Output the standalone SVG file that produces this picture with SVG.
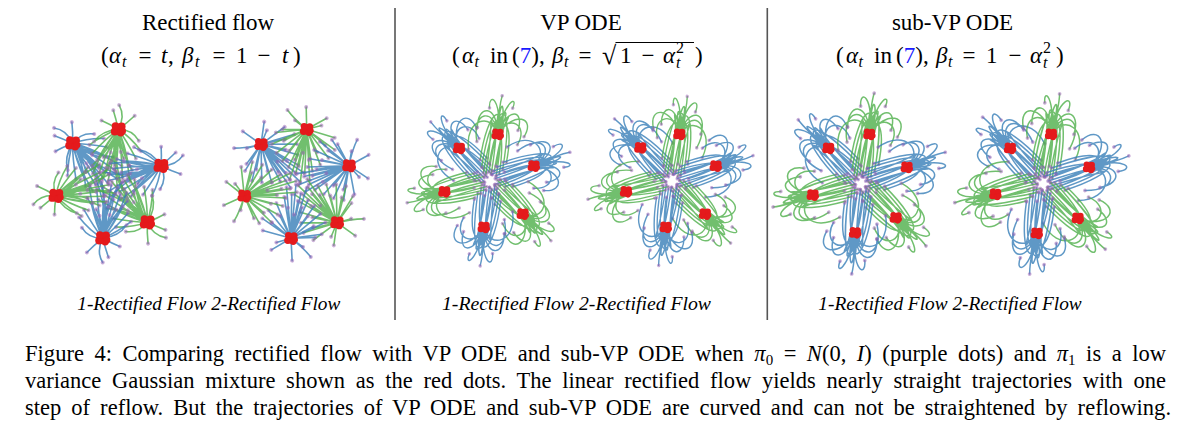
<svg xmlns="http://www.w3.org/2000/svg" width="1186" height="434" viewBox="0 0 1186 434">
<style>
.t{font-family:"Liberation Serif","Times New Roman",serif;fill:#000}
.ttl{font-size:23px}
.sb{font-size:16px}
.i{font-style:italic}
.cap{font-size:22.5px}
.sub{font-size:18.5px;font-style:italic}
.tr{fill:none;stroke-width:1.6;stroke-opacity:0.8;stroke-linecap:round}
.pd{fill:none;stroke:#9a5fb4;stroke-opacity:0.5;stroke-width:4;stroke-linecap:round}
.rd{fill:#e41a1c;stroke:none}
.div{stroke:#555;stroke-width:1.6}
</style>
<defs>
<g id="rf1">
<path class="tr" d="M0 0Q-3 14 -6 40M0 0Q3 16 4 42M0 0Q-6 18 -12 46M0 0Q6 18 12 48M0 0Q0 22 -2 54M0 0Q-2 24 8 56M0 0Q4 20 -8 52M0 0Q-8 12 -16 34M0 0Q8 12 16 34M0 0Q-10 10 -22 28M0 0Q10 10 22 26M0 0Q-2 10 -4 24M0 0Q2 10 6 22M0 0Q-12 20 -18 48M0 0Q12 22 20 50M0 0Q-4 16 2 36M0 0Q4 16 -2 32M0 0Q-14 8 -26 20M0 0Q14 6 26 18M0 0Q-6 22 -20 40M0 0Q6 22 20 38M0 0Q2 28 -12 58M0 0Q-2 28 14 58M0 0Q0 12 -10 30M0 0Q0 12 10 28M0 0Q-4 -10 -8 -18M0 0Q8 -8 14 -16M0 0Q-10 -4 -18 -6M0 0Q5 -14 -3 -24M0 0Q-16 4 -22 16M0 0Q14 -2 22 8"/>
<path class="pd" d="M-6 40h0M4 42h0M-12 46h0M12 48h0M-2 54h0M8 56h0M-8 52h0M-16 34h0M16 34h0M-22 28h0M22 26h0M-4 24h0M6 22h0M-18 48h0M20 50h0M2 36h0M-2 32h0M-26 20h0M26 18h0M-20 40h0M20 38h0M-12 58h0M14 58h0M-10 30h0M10 28h0M-8 -18h0M14 -16h0M-18 -6h0M-3 -24h0M-22 16h0M22 8h0"/>
</g>
<g id="rf2">
<path class="tr" d="M0 0L-4 46M0 0L5 44M0 0L12 40M0 0L-12 40M0 0L-19 35M0 0L19 33M0 0L-26 28M0 0L26 25M0 0L-32 20M0 0L31 16M0 0L-7 32M0 0L7 30M0 0L0 24M0 0L-14 24M0 0L14 21M0 0L-21 15M0 0L21 13M0 0L-30 8M0 0L29 4M0 0L-24 4M0 0L2 54M0 0L-9 52M0 0L11 50M0 0L-2 38M0 0L14 -6M0 0L-13 -7M0 0L-4 -22M0 0L18 -14M0 0Q-14 -8 -22 -16"/>
<path class="pd" d="M-4 46h0M5 44h0M12 40h0M-12 40h0M-19 35h0M19 33h0M-26 28h0M26 25h0M-32 20h0M31 16h0M-7 32h0M7 30h0M0 24h0M-14 24h0M14 21h0M-21 15h0M21 13h0M-30 8h0M29 4h0M-24 4h0M2 54h0M-9 52h0M11 50h0M-2 38h0M14 -6h0M-13 -7h0M-4 -22h0M18 -14h0M-22 -16h0"/>
</g>
<g id="vp">
<path class="tr" d="M-12 40C-12 -20 -2 -22 0 0M-9 46C-9 -36 10 -38 0 0M-6 48C-6 -26 -18 -22 0 0M-3 44C-3 -44 14 -36 0 0M0 46C0 -18 -8 -20 0 0M3 42C3 -40 18 -30 0 0M6 48C6 -30 -10 -40 0 0M9 44C9 -22 -16 -24 0 0M12 38C12 -32 -2 -38 0 0M-15 32C-16 -30 4 -36 0 0M15 30C16 -16 2 -22 0 0M-4 34C-4 -10 4 -12 0 0M4 36C6 -50 -6 -46 0 0M-24 -4C-28 -30 -6 -34 0 0M22 -8C26 -32 6 -34 0 0M-22 12C-34 -22 -8 -30 0 0M24 8C34 -16 8 -26 0 0M-14 -28C-18 -46 -2 -42 0 0M12 -32C16 -48 2 -40 0 0M-2 -44C-4 -30 -2 -16 0 0M-30 22C-40 -12 -10 -24 0 0M30 -2C40 -26 14 -30 0 0"/>
<path class="pd" d="M-12 40h0M-9 46h0M-6 48h0M-3 44h0M0 46h0M3 42h0M6 48h0M9 44h0M12 38h0M-15 32h0M15 30h0M-4 34h0M4 36h0M-24 -4h0M22 -8h0M-22 12h0M24 8h0M-14 -28h0M12 -32h0M-2 -44h0M-30 22h0M30 -2h0"/>
</g>
<g id="rc" class="rd"><circle r="5.2"/><circle cx="3" cy="-2.5" r="3.6"/><circle cx="-3.2" cy="2" r="3.6"/><circle cx="2.2" cy="3.2" r="3.4"/><circle cx="-2.6" cy="-3" r="3.4"/><circle cx="4" cy="1.5" r="3"/></g>
</defs>
<rect width="1186" height="434" fill="#fff"/>

<g id="dividers">
<line class="div" x1="395" y1="8" x2="395" y2="320"/>
<line class="div" x1="767.3" y1="8" x2="767.3" y2="320"/>
</g>

<g id="panel-rectified-titles" class="t">
<text class="ttl" x="208" y="30" text-anchor="middle">Rectified flow</text>
<g class="ttl">
<text x="101" y="63">(</text><text class="i" x="109" y="63">α</text><text class="i sb" x="122" y="67">t</text>
<text x="145" y="63" text-anchor="middle">=</text><text class="i" x="161" y="63">t</text><text x="168" y="63">,</text>
<text class="i" x="182" y="63">β</text><text class="i sb" x="195" y="67">t</text>
<text x="219" y="63" text-anchor="middle">=</text><text x="236" y="63">1</text><text x="264" y="63" text-anchor="middle">−</text>
<text class="i" x="282" y="63">t</text><text x="293" y="63">)</text>
</g>
</g>

<g id="panel-vp-titles" class="t">
<text class="ttl" x="581" y="30" text-anchor="middle">VP ODE</text>
<g class="ttl">
<text x="452" y="63">(</text><text class="i" x="462" y="63">α</text><text class="i sb" x="474.5" y="67">t</text>
<text x="490" y="63">in</text><text x="512" y="63">(</text><text x="519.7" y="63" fill="#1a1aff">7</text><text x="531.2" y="63">)</text><text x="538.9" y="63">,</text>
<text class="i" x="552" y="63">β</text><text class="i sb" x="564" y="67">t</text>
<text x="585" y="63" text-anchor="middle">=</text>
<text x="602" y="64" font-size="26">√</text>
<line x1="615.5" y1="42.5" x2="694" y2="42.5" stroke="#000" stroke-width="1.1"/>
<text x="620" y="63">1</text><text x="648" y="63" text-anchor="middle">−</text>
<text class="i" x="663" y="63">α</text><text class="sb" x="676" y="53">2</text><text class="i sb" x="676" y="68">t</text>
<text x="695" y="63">)</text>
</g>
</g>

<g id="panel-subvp-titles" class="t">
<text class="ttl" x="952.5" y="30" text-anchor="middle">sub-VP ODE</text>
<g class="ttl">
<text x="836" y="63">(</text><text class="i" x="846" y="63">α</text><text class="i sb" x="858.5" y="67">t</text>
<text x="874" y="63">in</text><text x="896" y="63">(</text><text x="903.7" y="63" fill="#1a1aff">7</text><text x="915.2" y="63">)</text><text x="922.9" y="63">,</text>
<text class="i" x="936" y="63">β</text><text class="i sb" x="948" y="67">t</text>
<text x="969" y="63" text-anchor="middle">=</text>
<text x="986" y="63">1</text><text x="1015" y="63" text-anchor="middle">−</text>
<text class="i" x="1030" y="63">α</text><text class="sb" x="1043" y="53">2</text><text class="i sb" x="1043" y="68">t</text>
<text x="1056" y="63">)</text>
</g>
</g>

<g id="plot-1-rectified">
<use href="#rf1" stroke="#377eb8" transform="translate(72.7 143.3) rotate(-43.4)"/>
<use href="#rf1" stroke="#4daf4a" transform="translate(118.3 129.3) rotate(9.2)"/>
<use href="#rf1" stroke="#377eb8" transform="translate(161 165.7) rotate(72)"/>
<use href="#rf1" stroke="#4daf4a" transform="translate(147.3 222.3) rotate(136.7)"/>
<use href="#rf1" stroke="#377eb8" transform="translate(102.7 238.3) rotate(187.1)"/>
<use href="#rf1" stroke="#4daf4a" transform="translate(56 195.7) rotate(256.1)"/>
<use href="#rc" transform="translate(72.7 143.3) scale(1.1)"/>
<use href="#rc" transform="translate(118.3 129.3) scale(1.1)"/>
<use href="#rc" transform="translate(161 165.7) scale(1.1)"/>
<use href="#rc" transform="translate(147.3 222.3) scale(1.1)"/>
<use href="#rc" transform="translate(102.7 238.3) scale(1.1)"/>
<use href="#rc" transform="translate(56 195.7) scale(1.1)"/>
</g>

<g id="plot-2-rectified">
<use href="#rf2" stroke="#377eb8" transform="translate(261 144.3) rotate(-44.1)"/>
<use href="#rf2" stroke="#4daf4a" transform="translate(306.7 129.3) rotate(9)"/>
<use href="#rf2" stroke="#377eb8" transform="translate(349 165.7) rotate(71.5)"/>
<use href="#rf2" stroke="#4daf4a" transform="translate(337 222.7) rotate(135.9)"/>
<use href="#rf2" stroke="#377eb8" transform="translate(291 238.3) rotate(187.4)"/>
<use href="#rf2" stroke="#4daf4a" transform="translate(244.3 196) rotate(256.1)"/>
<use href="#rc" transform="translate(261 144.3)"/>
<use href="#rc" transform="translate(306.7 129.3)"/>
<use href="#rc" transform="translate(349 165.7)"/>
<use href="#rc" transform="translate(337 222.7)"/>
<use href="#rc" transform="translate(291 238.3)"/>
<use href="#rc" transform="translate(244.3 196)"/>
</g>

<g id="plot-1-vp">
<use href="#vp" stroke="#377eb8" transform="translate(459 148.3) rotate(-44.3) scale(0.88)"/>
<use href="#vp" stroke="#4daf4a" transform="translate(497.7 134.3) rotate(9.3) scale(0.88)"/>
<use href="#vp" stroke="#377eb8" transform="translate(533.7 166) rotate(71.8) scale(0.88)"/>
<use href="#vp" stroke="#4daf4a" transform="translate(522.7 214) rotate(136) scale(0.88)"/>
<use href="#vp" stroke="#377eb8" transform="translate(483.7 227.3) rotate(187.9) scale(0.88)"/>
<use href="#vp" stroke="#4daf4a" transform="translate(444.3 191.7) rotate(256.1) scale(0.88)"/>
<use href="#rc" transform="translate(459 148.3) scale(0.9)"/>
<use href="#rc" transform="translate(497.7 134.3) scale(0.9)"/>
<use href="#rc" transform="translate(533.7 166) scale(0.9)"/>
<use href="#rc" transform="translate(522.7 214) scale(0.9)"/>
<use href="#rc" transform="translate(483.7 227.3) scale(0.9)"/>
<use href="#rc" transform="translate(444.3 191.7) scale(0.9)"/>
</g>

<g id="plot-2-vp">
<use href="#vp" stroke="#377eb8" transform="translate(640.3 147.8) rotate(-44.3) scale(-0.88 0.88)"/>
<use href="#vp" stroke="#4daf4a" transform="translate(679.3 134.3) rotate(9.3) scale(-0.88 0.88)"/>
<use href="#vp" stroke="#377eb8" transform="translate(715.7 166) rotate(71.8) scale(-0.88 0.88)"/>
<use href="#vp" stroke="#4daf4a" transform="translate(705 214) rotate(136) scale(-0.88 0.88)"/>
<use href="#vp" stroke="#377eb8" transform="translate(665.7 227.3) rotate(187.9) scale(-0.88 0.88)"/>
<use href="#vp" stroke="#4daf4a" transform="translate(626 191.7) rotate(256.1) scale(-0.88 0.88)"/>
<use href="#rc" transform="translate(640.3 147.8) scale(0.9)"/>
<use href="#rc" transform="translate(679.3 134.3) scale(0.9)"/>
<use href="#rc" transform="translate(715.7 166) scale(0.9)"/>
<use href="#rc" transform="translate(705 214) scale(0.9)"/>
<use href="#rc" transform="translate(665.7 227.3) scale(0.9)"/>
<use href="#rc" transform="translate(626 191.7) scale(0.9)"/>
</g>

<g id="plot-1-subvp">
<use href="#vp" stroke="#377eb8" transform="translate(828.3 148.3) rotate(-43.9) scale(0.94)"/>
<use href="#vp" stroke="#4daf4a" transform="translate(869.3 134.3) rotate(9.4) scale(0.94)"/>
<use href="#vp" stroke="#377eb8" transform="translate(906.7 167.3) rotate(71.4) scale(0.94)"/>
<use href="#vp" stroke="#4daf4a" transform="translate(895.7 217.7) rotate(135.6) scale(0.94)"/>
<use href="#vp" stroke="#377eb8" transform="translate(855 232.7) rotate(187.2) scale(0.94)"/>
<use href="#vp" stroke="#4daf4a" transform="translate(812.7 195) rotate(255.7) scale(0.94)"/>
<use href="#rc" transform="translate(828.3 148.3) scale(0.9)"/>
<use href="#rc" transform="translate(869.3 134.3) scale(0.9)"/>
<use href="#rc" transform="translate(906.7 167.3) scale(0.9)"/>
<use href="#rc" transform="translate(895.7 217.7) scale(0.9)"/>
<use href="#rc" transform="translate(855 232.7) scale(0.9)"/>
<use href="#rc" transform="translate(812.7 195) scale(0.9)"/>
</g>

<g id="plot-2-subvp">
<use href="#vp" stroke="#377eb8" transform="translate(1010 148.3) rotate(-43.9) scale(-0.94 0.94)"/>
<use href="#vp" stroke="#4daf4a" transform="translate(1051 134.3) rotate(9.4) scale(-0.94 0.94)"/>
<use href="#vp" stroke="#377eb8" transform="translate(1089 167.3) rotate(71.4) scale(-0.94 0.94)"/>
<use href="#vp" stroke="#4daf4a" transform="translate(1077.7 218.3) rotate(135.6) scale(-0.94 0.94)"/>
<use href="#vp" stroke="#377eb8" transform="translate(1036.7 233.3) rotate(187.2) scale(-0.94 0.94)"/>
<use href="#vp" stroke="#4daf4a" transform="translate(995.3 194.3) rotate(255.7) scale(-0.94 0.94)"/>
<use href="#rc" transform="translate(1010 148.3) scale(0.9)"/>
<use href="#rc" transform="translate(1051 134.3) scale(0.9)"/>
<use href="#rc" transform="translate(1089 167.3) scale(0.9)"/>
<use href="#rc" transform="translate(1077.7 218.3) scale(0.9)"/>
<use href="#rc" transform="translate(1036.7 233.3) scale(0.9)"/>
<use href="#rc" transform="translate(995.3 194.3) scale(0.9)"/>
</g>

<g id="subtitles" class="t sub">
<text x="77.3" y="310" textLength="263" lengthAdjust="spacingAndGlyphs">1-Rectified Flow 2-Rectified Flow</text>
<text x="442" y="310" textLength="269" lengthAdjust="spacingAndGlyphs">1-Rectified Flow 2-Rectified Flow</text>
<text x="818.3" y="310" textLength="263.4" lengthAdjust="spacingAndGlyphs">1-Rectified Flow 2-Rectified Flow</text>
</g>

<g id="caption" class="t cap">
<text x="25" y="361" word-spacing="4.8" textLength="1141" lengthAdjust="spacing">Figure 4: Comparing rectified flow with VP ODE and sub-VP ODE when <tspan class="i">π</tspan><tspan font-size="15" dy="4">0</tspan><tspan dy="-4"> = </tspan><tspan class="i">N</tspan>(0, <tspan class="i">I</tspan>) (purple dots) and <tspan class="i">π</tspan><tspan font-size="15" dy="4">1</tspan><tspan dy="-4"> is a low</tspan></text>
<text x="25" y="388" word-spacing="5.1" textLength="1141" lengthAdjust="spacing">variance Gaussian mixture shown as the red dots. The linear rectified flow yields nearly straight trajectories with one</text>
<text x="25" y="415" word-spacing="4.3" textLength="1146" lengthAdjust="spacing">step of reflow. But the trajectories of VP ODE and sub-VP ODE are curved and can not be straightened by reflowing.</text>
</g>
</svg>
